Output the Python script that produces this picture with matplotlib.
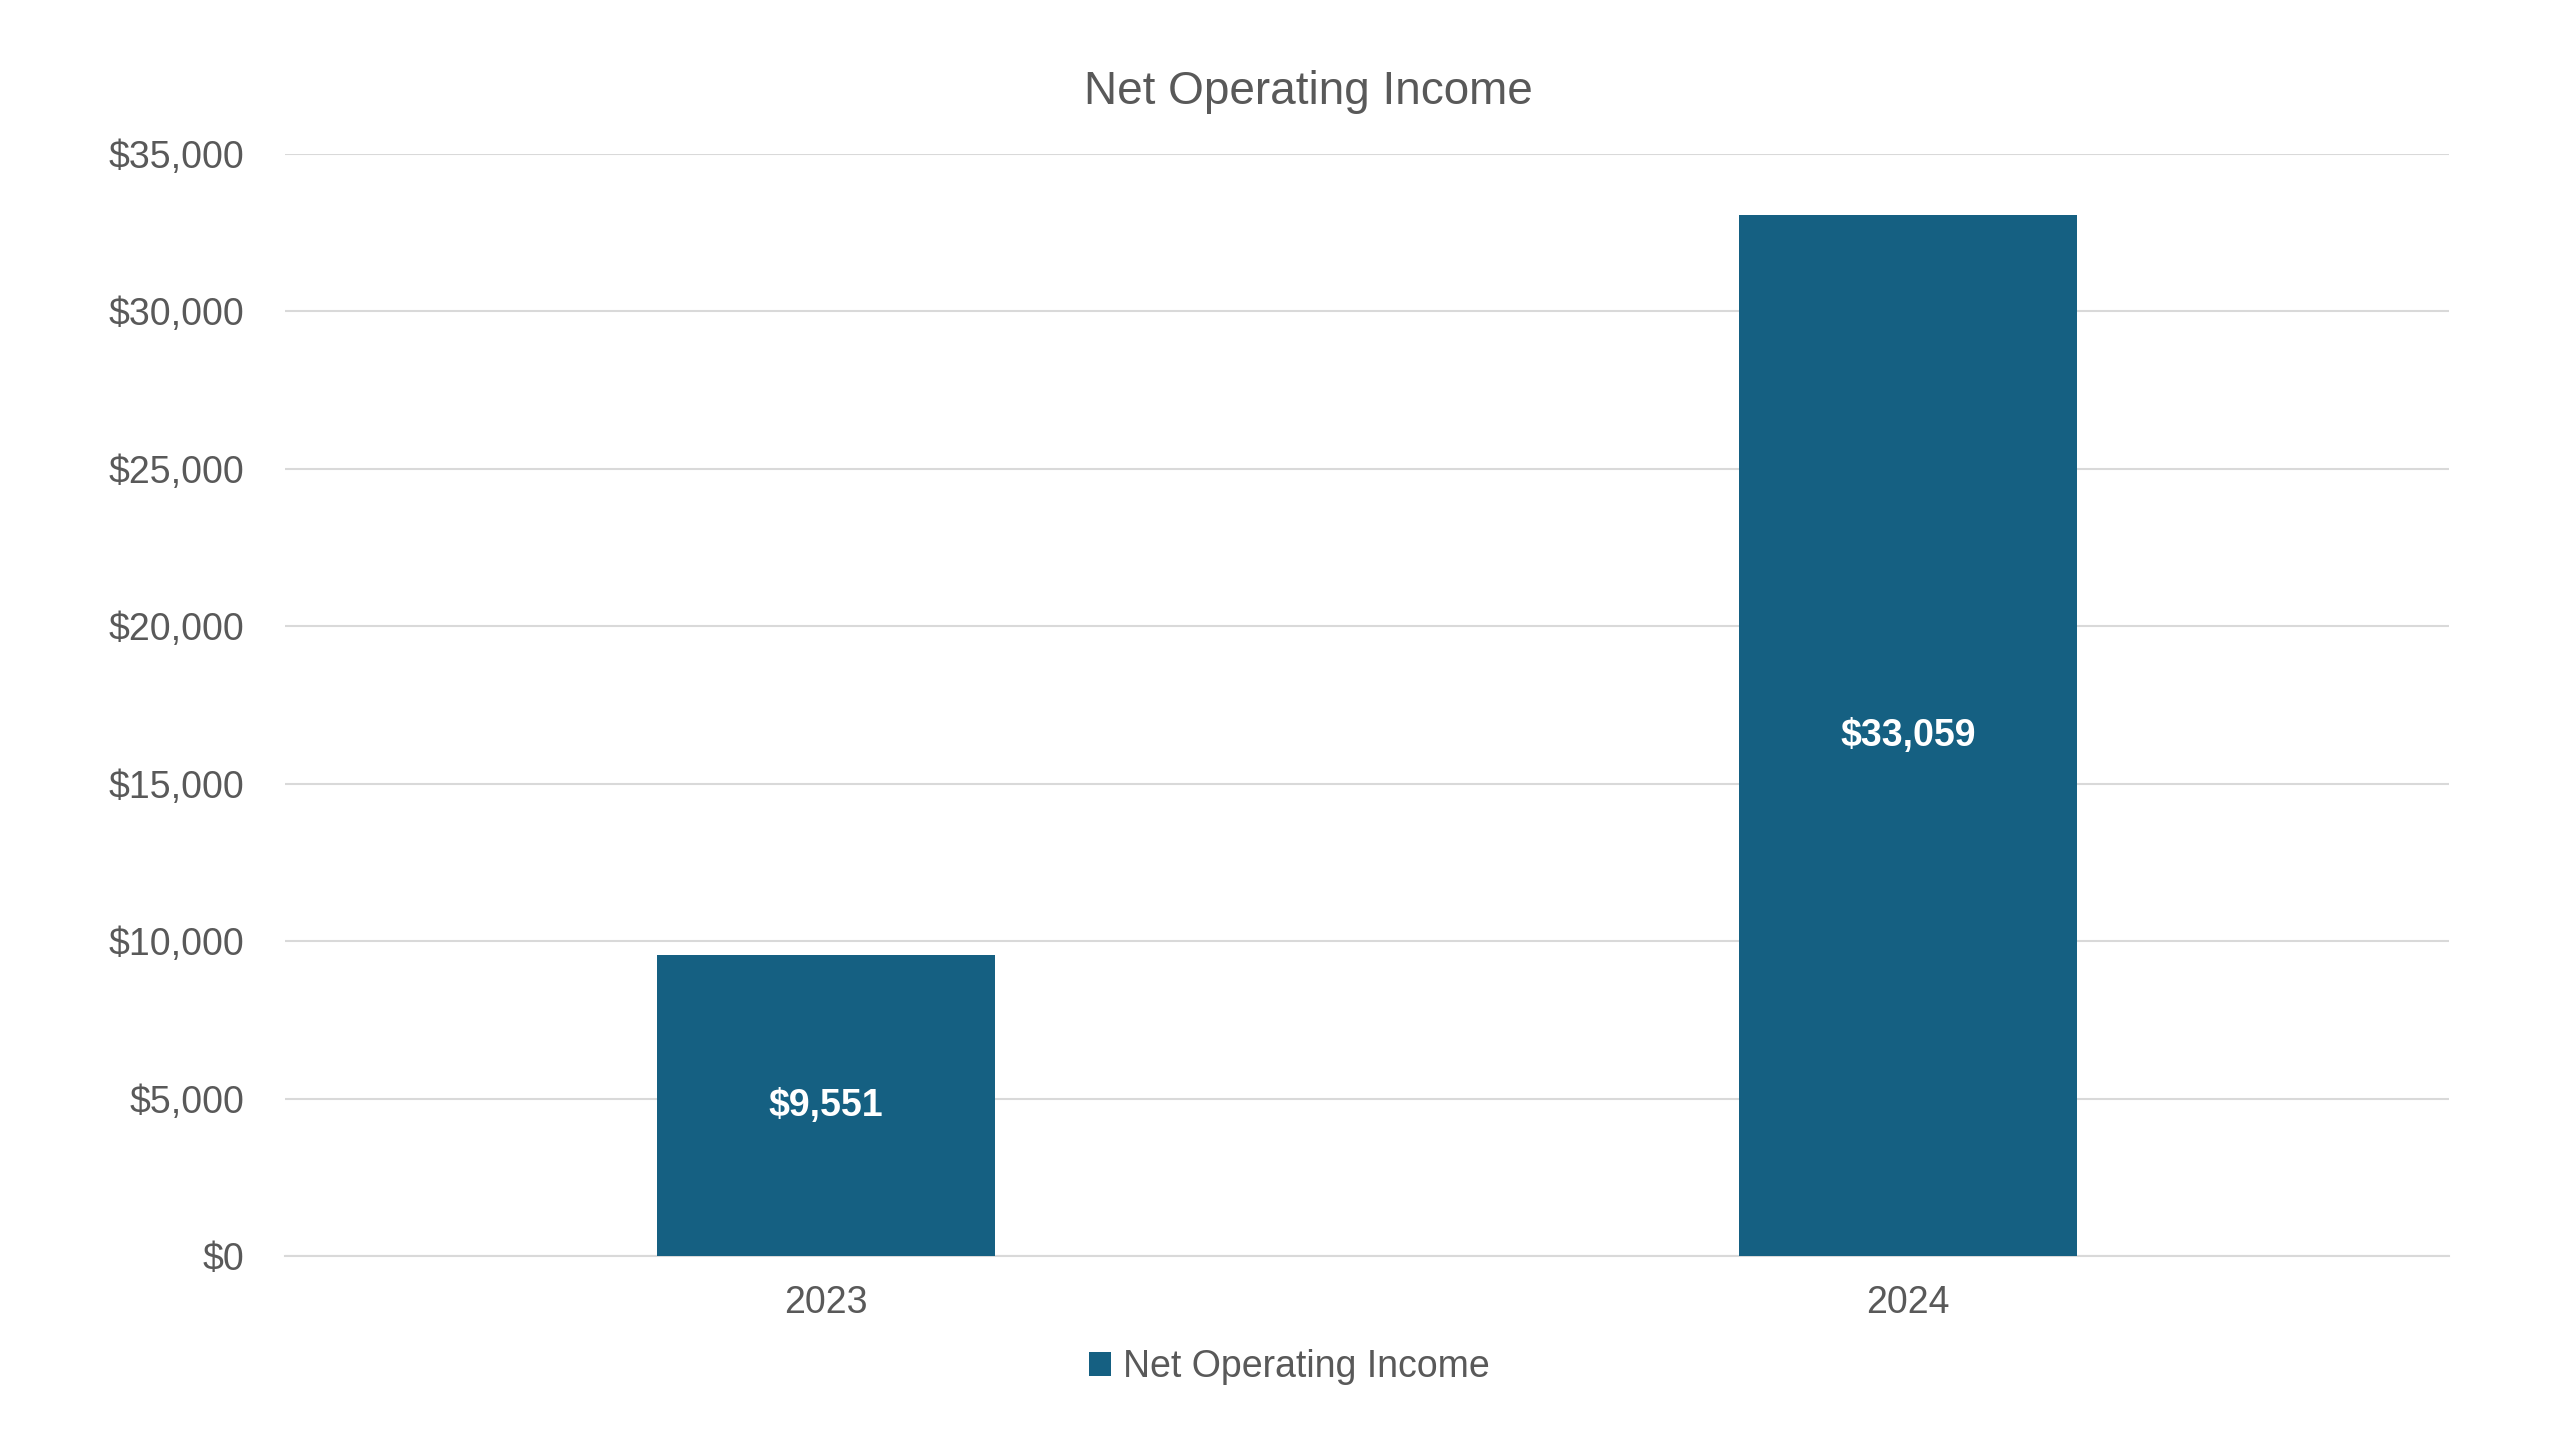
import matplotlib
matplotlib.use("Agg")
import matplotlib.pyplot as plt
from matplotlib.ticker import FuncFormatter

years = ["2023", "2024"]
noi = [9551, 33059]
yticks = [0, 5000, 10000, 15000, 20000, 25000, 30000, 35000]

plt.rcParams["font.family"] = ["Liberation Sans", "DejaVu Sans"]
grey = "#595959"
bar_color = "#156082"

fig = plt.figure(figsize=(25.6, 14.4), dpi=100)
ax = fig.add_axes([0.1113, 0.1278, 0.8453, 0.7652])

x = list(range(len(years)))
bars = ax.bar(x, noi, width=0.313, color=bar_color, zorder=3, label="Net Operating Income")

ax.set_xlim(-0.5, len(years) - 0.5)
ax.set_ylim(0, 35000)
ax.set_yticks(yticks)
ax.yaxis.set_major_formatter(FuncFormatter(lambda v, p: f"${v:,.0f}"))
ax.set_xticks(x)
ax.set_xticklabels(years)

ax.grid(axis="y", color="#d9d9d9", linewidth=1.5, zorder=0)
for s in ["top", "right", "left"]:
    ax.spines[s].set_visible(False)
ax.spines["bottom"].set_color("#d9d9d9")
ax.spines["bottom"].set_linewidth(1.5)
ax.tick_params(axis="both", length=0, labelsize=27, labelcolor=grey)
ax.tick_params(axis="x", pad=21)
ax.tick_params(axis="y", pad=29)

# value labels in the middle of each bar
for xi, v in zip(x, noi):
    ax.text(xi, v / 2, f"${v:,}", ha="center", va="center", color="white",
            fontsize=27, fontweight="bold", zorder=4)

fig.text(0.511, 0.936, "Net Operating Income", ha="center", va="center",
         fontsize=33, color=grey)

fig.legend(handles=[bars], labels=["Net Operating Income"], loc="center",
           bbox_to_anchor=(0.5036, 0.0506), frameon=False, fontsize=27,
           labelcolor=grey, handlelength=0.6, handleheight=0.6, handletextpad=0.3)

fig.savefig("out.png", dpi=100, facecolor="white")
